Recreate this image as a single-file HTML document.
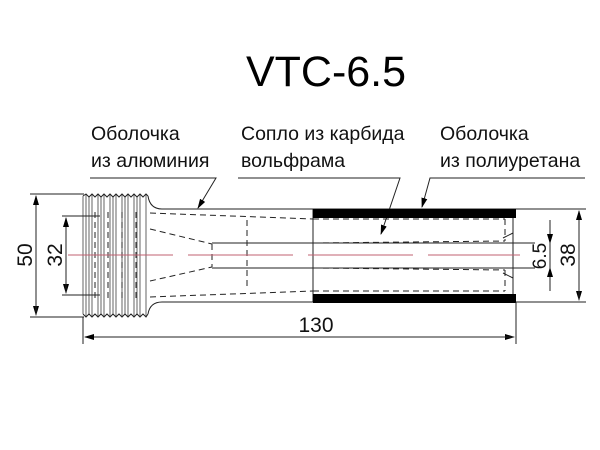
<!DOCTYPE html>
<html><head><meta charset="utf-8"><style>
body{margin:0;background:#fff;}
svg{display:block;font-family:"Liberation Sans",sans-serif;}
</style></head><body>
<svg width="600" height="450" viewBox="0 0 600 450">
<defs>
<marker id="a" markerWidth="10" markerHeight="8" refX="9" refY="4" orient="auto" markerUnits="userSpaceOnUse"><path d="M0,1 L10,4 L0,7 Z" fill="#000"/></marker>
</defs>
<rect width="600" height="450" fill="#fff"/>
<text x="326" y="86" font-size="43" text-anchor="middle">VTC-6.5</text>
<g font-size="19.5" fill="#111">
<text x="91" y="140">Оболочка</text><text x="91" y="167">из алюминия</text>
<text x="241" y="140">Сопло из карбида</text><text x="241" y="167">вольфрама</text>
<text x="440" y="140">Оболочка</text><text x="440" y="167">из полиуретана</text>
</g>
<g stroke="#222" stroke-width="1" fill="none">
<polyline points="90,178 216,178 198,208" marker-end="url(#a)"/>
<polyline points="238,178 400,178 381,234" marker-end="url(#a)"/>
<polyline points="585,178 430,178 422,207" marker-end="url(#a)"/>
<path d="M148,196 Q150,209 162,209 L516,209"/>
<path d="M148,314 Q150,302 162,302 L516,302"/>
<line x1="313" y1="209" x2="313" y2="302"/>
<line x1="513" y1="209" x2="513" y2="302"/>
<path d="M83,196 L86,194 L89,197 L92,194 L95,197 L98,194 L101,197 L104,194 L107,197 L110,194 L113,197 L116,194 L119,197 L122,194 L125,197 L128,194 L131,197 L134,194 L137,197 L140,194 L143,197 L146,194 L148,196"/>
<path d="M83,314 L86,317 L89,314 L92,317 L95,314 L98,317 L101,314 L104,317 L107,314 L110,317 L113,314 L116,317 L119,314 L122,317 L125,314 L128,317 L131,314 L134,317 L137,314 L140,317 L143,314 L146,317 L148,314"/>
<g stroke-width="0.7">
<line x1="83" y1="196" x2="83" y2="314"/><line x1="86" y1="194" x2="86" y2="317"/><line x1="89" y1="197" x2="89" y2="314"/><line x1="92" y1="194" x2="92" y2="317"/>
<line x1="98" y1="194" x2="98" y2="317"/><line x1="101" y1="197" x2="101" y2="314"/><line x1="104" y1="194" x2="104" y2="317"/>
<line x1="110" y1="194" x2="110" y2="317"/><line x1="113" y1="197" x2="113" y2="314"/><line x1="116" y1="194" x2="116" y2="317"/>
<line x1="122" y1="194" x2="122" y2="317"/><line x1="125" y1="197" x2="125" y2="314"/><line x1="128" y1="194" x2="128" y2="317"/>
<line x1="134" y1="194" x2="134" y2="317"/><line x1="137" y1="197" x2="137" y2="314"/><line x1="140" y1="194" x2="140" y2="317"/>
<line x1="146" y1="194" x2="146" y2="317"/>
</g>
<g stroke-dasharray="6,4">
<line x1="150" y1="213" x2="313" y2="219"/>
<line x1="150" y1="297" x2="313" y2="291"/>
<line x1="150" y1="229" x2="212" y2="244"/>
<line x1="150" y1="281" x2="212" y2="267"/>
<line x1="313" y1="219" x2="505" y2="219"/>
<line x1="313" y1="291" x2="505" y2="291"/>
<line x1="313" y1="243" x2="505" y2="241"/>
<line x1="313" y1="268" x2="505" y2="270"/>
<line x1="505" y1="219" x2="505" y2="241"/>
<line x1="505" y1="270" x2="505" y2="291"/>
<line x1="247" y1="220" x2="247" y2="290"/>
<line x1="212" y1="244" x2="212" y2="267"/>
<line x1="95" y1="212" x2="95" y2="298"/>
<line x1="108" y1="212" x2="108" y2="298"/>
<line x1="122" y1="212" x2="122" y2="298"/>
<line x1="136" y1="212" x2="136" y2="298"/>
</g>
<line x1="212" y1="243" x2="313" y2="243"/>
<line x1="212" y1="268" x2="313" y2="268"/>
<line x1="313" y1="243" x2="535" y2="243"/>
<line x1="313" y1="268" x2="535" y2="268"/>
<line x1="503" y1="238" x2="513" y2="233"/>
<line x1="503" y1="273" x2="513" y2="278"/>
</g>
<rect x="313" y="209" width="203" height="9" fill="#000"/>
<rect x="313" y="294" width="203" height="9" fill="#000"/>
<line x1="68" y1="255" x2="520" y2="255" stroke="#c06070" stroke-width="1" stroke-dasharray="105,15"/>
<g stroke="#222" stroke-width="1" fill="none">
<line x1="30" y1="194" x2="84" y2="194"/><line x1="30" y1="317" x2="84" y2="317"/>
<line x1="36" y1="196" x2="36" y2="315" marker-end="url(#a)"/>
<line x1="36" y1="315" x2="36" y2="196" marker-end="url(#a)"/>
<line x1="62" y1="216" x2="100" y2="216"/><line x1="62" y1="295" x2="100" y2="295"/>
<line x1="66" y1="218" x2="66" y2="293" marker-end="url(#a)"/>
<line x1="66" y1="293" x2="66" y2="218" marker-end="url(#a)"/>
<line x1="83" y1="317" x2="83" y2="344"/><line x1="516" y1="302" x2="516" y2="344"/>
<line x1="85" y1="337" x2="514" y2="337" marker-end="url(#a)"/>
<line x1="514" y1="337" x2="85" y2="337" marker-end="url(#a)"/>
<line x1="516" y1="209" x2="586" y2="209"/><line x1="516" y1="302" x2="586" y2="302"/>
<line x1="579" y1="211" x2="579" y2="300" marker-end="url(#a)"/>
<line x1="579" y1="300" x2="579" y2="211" marker-end="url(#a)"/>
<line x1="550" y1="220" x2="550" y2="243" marker-end="url(#a)"/>
<line x1="550" y1="291" x2="550" y2="268" marker-end="url(#a)"/>
<line x1="550" y1="243" x2="550" y2="268"/>
</g>
<g font-size="21" fill="#111">
<text x="316" y="332" text-anchor="middle">130</text>
<text transform="translate(32,255) rotate(-90)" text-anchor="middle">50</text>
<text transform="translate(62,255) rotate(-90)" text-anchor="middle">32</text>
<text transform="translate(575,255) rotate(-90)" text-anchor="middle">38</text>
<text transform="translate(546,256) rotate(-90)" text-anchor="middle" font-size="19">6.5</text>
</g>
</svg>
</body></html>
